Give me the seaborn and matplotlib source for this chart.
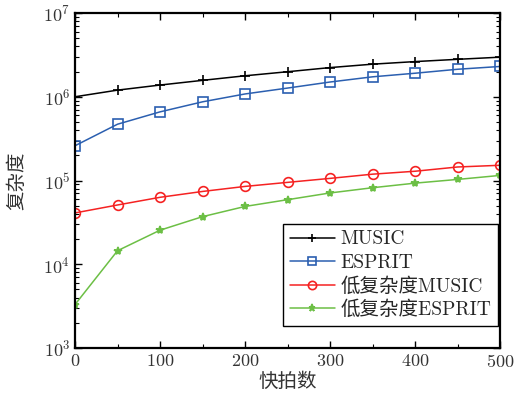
import numpy as np
import pandas as pd
import matplotlib
matplotlib.use("Agg")
import matplotlib.pyplot as plt
import matplotlib.ticker as mticker
import seaborn as sns

snapshots = [0, 50, 100, 150, 200, 250, 300, 350, 400, 450, 500]
music = [1.0e6, 1.2e6, 1.38e6, 1.57e6, 1.78e6, 1.99e6, 2.23e6, 2.45e6, 2.63e6, 2.8e6, 2.97e6]
esprit = [2.6e5, 4.7e5, 6.6e5, 8.7e5, 1.08e6, 1.27e6, 1.5e6, 1.73e6, 1.91e6, 2.13e6, 2.3e6]
low_music = [4.1e4, 5.1e4, 6.3e4, 7.4e4, 8.5e4, 9.5e4, 1.06e5, 1.19e5, 1.29e5, 1.45e5, 1.52e5]
low_esprit = [3.3e3, 1.45e4, 2.55e4, 3.7e4, 4.9e4, 5.9e4, 7.1e4, 8.2e4, 9.3e4, 1.03e5, 1.15e5]
series_names = ["MUSIC", "ESPRIT", "低复杂度MUSIC", "低复杂度ESPRIT"]
x_ticks = [0, 100, 200, 300, 400, 500]

sns.set_style("ticks")
plt.rcParams['font.family'] = ['cmr10', 'Noto Sans CJK SC']
plt.rcParams['mathtext.fontset'] = 'cm'
plt.rcParams['axes.formatter.use_mathtext'] = True
plt.rcParams['axes.unicode_minus'] = False

rows = []
for name, vals in zip(series_names, [music, esprit, low_music, low_esprit]):
    for xv, yv in zip(snapshots, vals):
        rows.append({"快拍数": xv, "复杂度": yv, "算法": name})
df = pd.DataFrame(rows)

colors = ["#000000", "#2b5fb0", "#f52222", "#6cbf45"]
markers = ["+", "s", "o", "*"]
msizes = [7, 7, 7, 6]

fig = plt.figure(figsize=(5.19, 4.03), dpi=100)
ax = fig.add_axes([0.1445, 0.1365, 0.819, 0.8312])

for name, c, m, ms in zip(series_names, colors, markers, msizes):
    sub = df[df["算法"] == name]
    sns.lineplot(data=sub, x="快拍数", y="复杂度", ax=ax, color=c, marker=m,
                 markersize=ms, markerfacecolor='none' if m in ('s', 'o') else c,
                 markeredgecolor=c, markeredgewidth=1.2, linewidth=1.1, label=name)

ax.set_yscale('log')
ax.set_xlim(0, 500)
ax.set_ylim(1e3, 1e7)
ax.set_xticks(x_ticks)
ax.xaxis.set_minor_locator(mticker.MultipleLocator(50))
ax.yaxis.set_major_locator(mticker.LogLocator(base=10, numticks=10))
ax.yaxis.set_minor_locator(mticker.LogLocator(base=10, subs=np.arange(2, 10), numticks=20))
ax.yaxis.set_minor_formatter(mticker.NullFormatter())
ax.tick_params(which='both', direction='in', top=True, right=True, colors='black')
ax.tick_params(which='major', length=5, width=1.0, labelsize=13, labelcolor='#333333')
ax.tick_params(which='minor', length=3, width=0.8)
for s in ax.spines.values():
    s.set_linewidth(1.6)
    s.set_color('black')

ax.set_xlabel("快拍数", fontsize=14, color='#333333', labelpad=2)
ax.set_ylabel("复杂度", fontsize=14, color='#333333', labelpad=12)

leg = ax.legend(loc='lower right', bbox_to_anchor=(1 - 2/425, 22/335), fontsize=14,
                frameon=True, fancybox=False,
                edgecolor='black', framealpha=1, borderpad=0.35, labelspacing=0.27,
                handlelength=2.3, handletextpad=0.3, borderaxespad=0.0, markerscale=0.85)
leg.get_frame().set_linewidth(1.0)

fig.savefig("out.png", dpi=100)
